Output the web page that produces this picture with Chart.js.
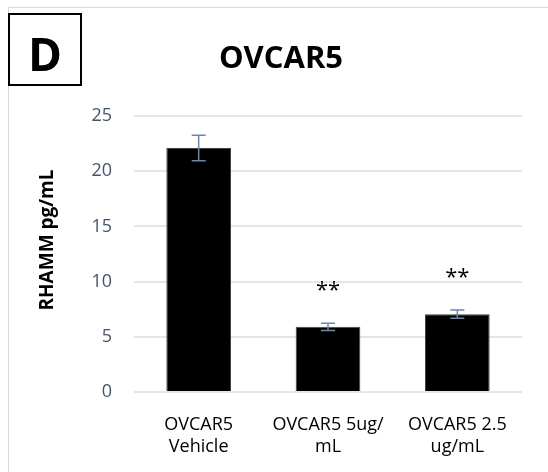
<!DOCTYPE html>
<html>
<head>
<meta charset="utf-8">
<script src="https://cdn.jsdelivr.net/npm/chart.js@4"></script>
<style>
  html, body { margin: 0; padding: 0; background: #fff; }
  #wrap { width: 548px; height: 472px; }
</style>
</head>
<body>
<div id="wrap"><canvas id="c" width="548" height="472"></canvas></div>
<script>
// values
var labels = [['OVCAR5', 'Vehicle'], ['OVCAR5 5ug/', 'mL'], ['OVCAR5 2.5', 'ug/mL']];
var values = [22.1, 5.9, 7.05];
var errors = [1.15, 0.33, 0.37];
var marks = ['', '**', '**'];
var title = 'OVCAR5';
var panel = 'D';
var yTitle = 'RHAMM pg/mL';

var font = '"Open Sans", "Liberation Sans", sans-serif';

var extras = {
    id: 'extras',
    beforeDraw: function(chart) {
        var ctx = chart.ctx;
        ctx.save();
        ctx.fillStyle = '#fff';
        ctx.fillRect(0, 0, chart.width, chart.height);
        // outer frame
        ctx.strokeStyle = '#d9d9d9';
        ctx.lineWidth = 1;
        ctx.strokeRect(8.5, 7.5, 700, 700);
        ctx.restore();
    },
    afterDatasetsDraw: function(chart) {
        var ctx = chart.ctx;
        var meta = chart.getDatasetMeta(0);
        var y = chart.scales.y;
        ctx.save();
        // error bars
        ctx.strokeStyle = '#6f87a6';
        ctx.lineWidth = 1.5;
        for (var i = 0; i < values.length; i++) {
            var x = meta.data[i].x;
            var top = y.getPixelForValue(values[i] + errors[i]);
            var bot = y.getPixelForValue(values[i] - errors[i]);
            ctx.beginPath();
            ctx.moveTo(x, top); ctx.lineTo(x, bot);
            ctx.moveTo(x - 7, top); ctx.lineTo(x + 7, top);
            ctx.moveTo(x - 7, bot); ctx.lineTo(x + 7, bot);
            ctx.stroke();
            if (marks[i]) {
                ctx.fillStyle = '#000';
                ctx.font = '22px ' + font;
                ctx.textAlign = 'center';
                ctx.textBaseline = 'middle';
                ctx.fillText(marks[i], x, top - 32);
            }
        }
        // axis title
        ctx.translate(48, 240);
        ctx.rotate(-Math.PI / 2);
        ctx.fillStyle = '#000';
        ctx.font = 'bold 19px ' + font;
        ctx.textAlign = 'center';
        ctx.textBaseline = 'middle';
        ctx.fillText(yTitle, 0, 0);
        ctx.restore();

        ctx.save();
        // title
        ctx.fillStyle = '#000';
        ctx.font = 'bold 31px ' + font;
        ctx.textAlign = 'center';
        ctx.textBaseline = 'middle';
        ctx.fillText(title, 281, 59);
        // panel letter box
        ctx.fillStyle = '#fff';
        ctx.fillRect(8, 13, 74, 73);
        ctx.strokeStyle = '#000';
        ctx.lineWidth = 2;
        ctx.strokeRect(9, 14, 72, 71);
        ctx.fillStyle = '#000';
        ctx.font = 'bold 46px ' + font;
        ctx.fillText(panel, 45, 58);
        ctx.restore();
    }
};

var ctx = document.getElementById('c').getContext('2d');
var myChart = new Chart(ctx, {
    type: 'bar',
    data: {
        labels: labels,
        datasets: [{
            data: values,
            backgroundColor: '#000',
            borderColor: '#404040',
            borderWidth: 1,
            barPercentage: 0.5,
            categoryPercentage: 1
        }]
    },
    options: {
        responsive: false,
        animation: false,
        layout: { padding: { top: 116, left: 8, right: 26, bottom: 0 } },
        plugins: {
            legend: { display: false },
            tooltip: { enabled: false }
        },
        scales: {
            x: {
                grid: { display: false },
                border: { display: false },
                ticks: {
                    color: '#000',
                    font: { family: font, size: 18 },
                    padding: 14,
                    maxRotation: 0,
                    autoSkip: false
                },
                afterFit: function(s) { s.height = 80; }
            },
            y: {
                min: 0,
                max: 25,
                ticks: {
                    stepSize: 5,
                    color: '#44546a',
                    font: { family: font, size: 18 },
                    padding: 22
                },
                grid: { color: '#e2e5e9', lineWidth: 2, drawTicks: false },
                border: { display: false },
                afterFit: function(s) { s.width = 126; }
            }
        }
    },
    plugins: [extras]
});
</script>
</body>
</html>
